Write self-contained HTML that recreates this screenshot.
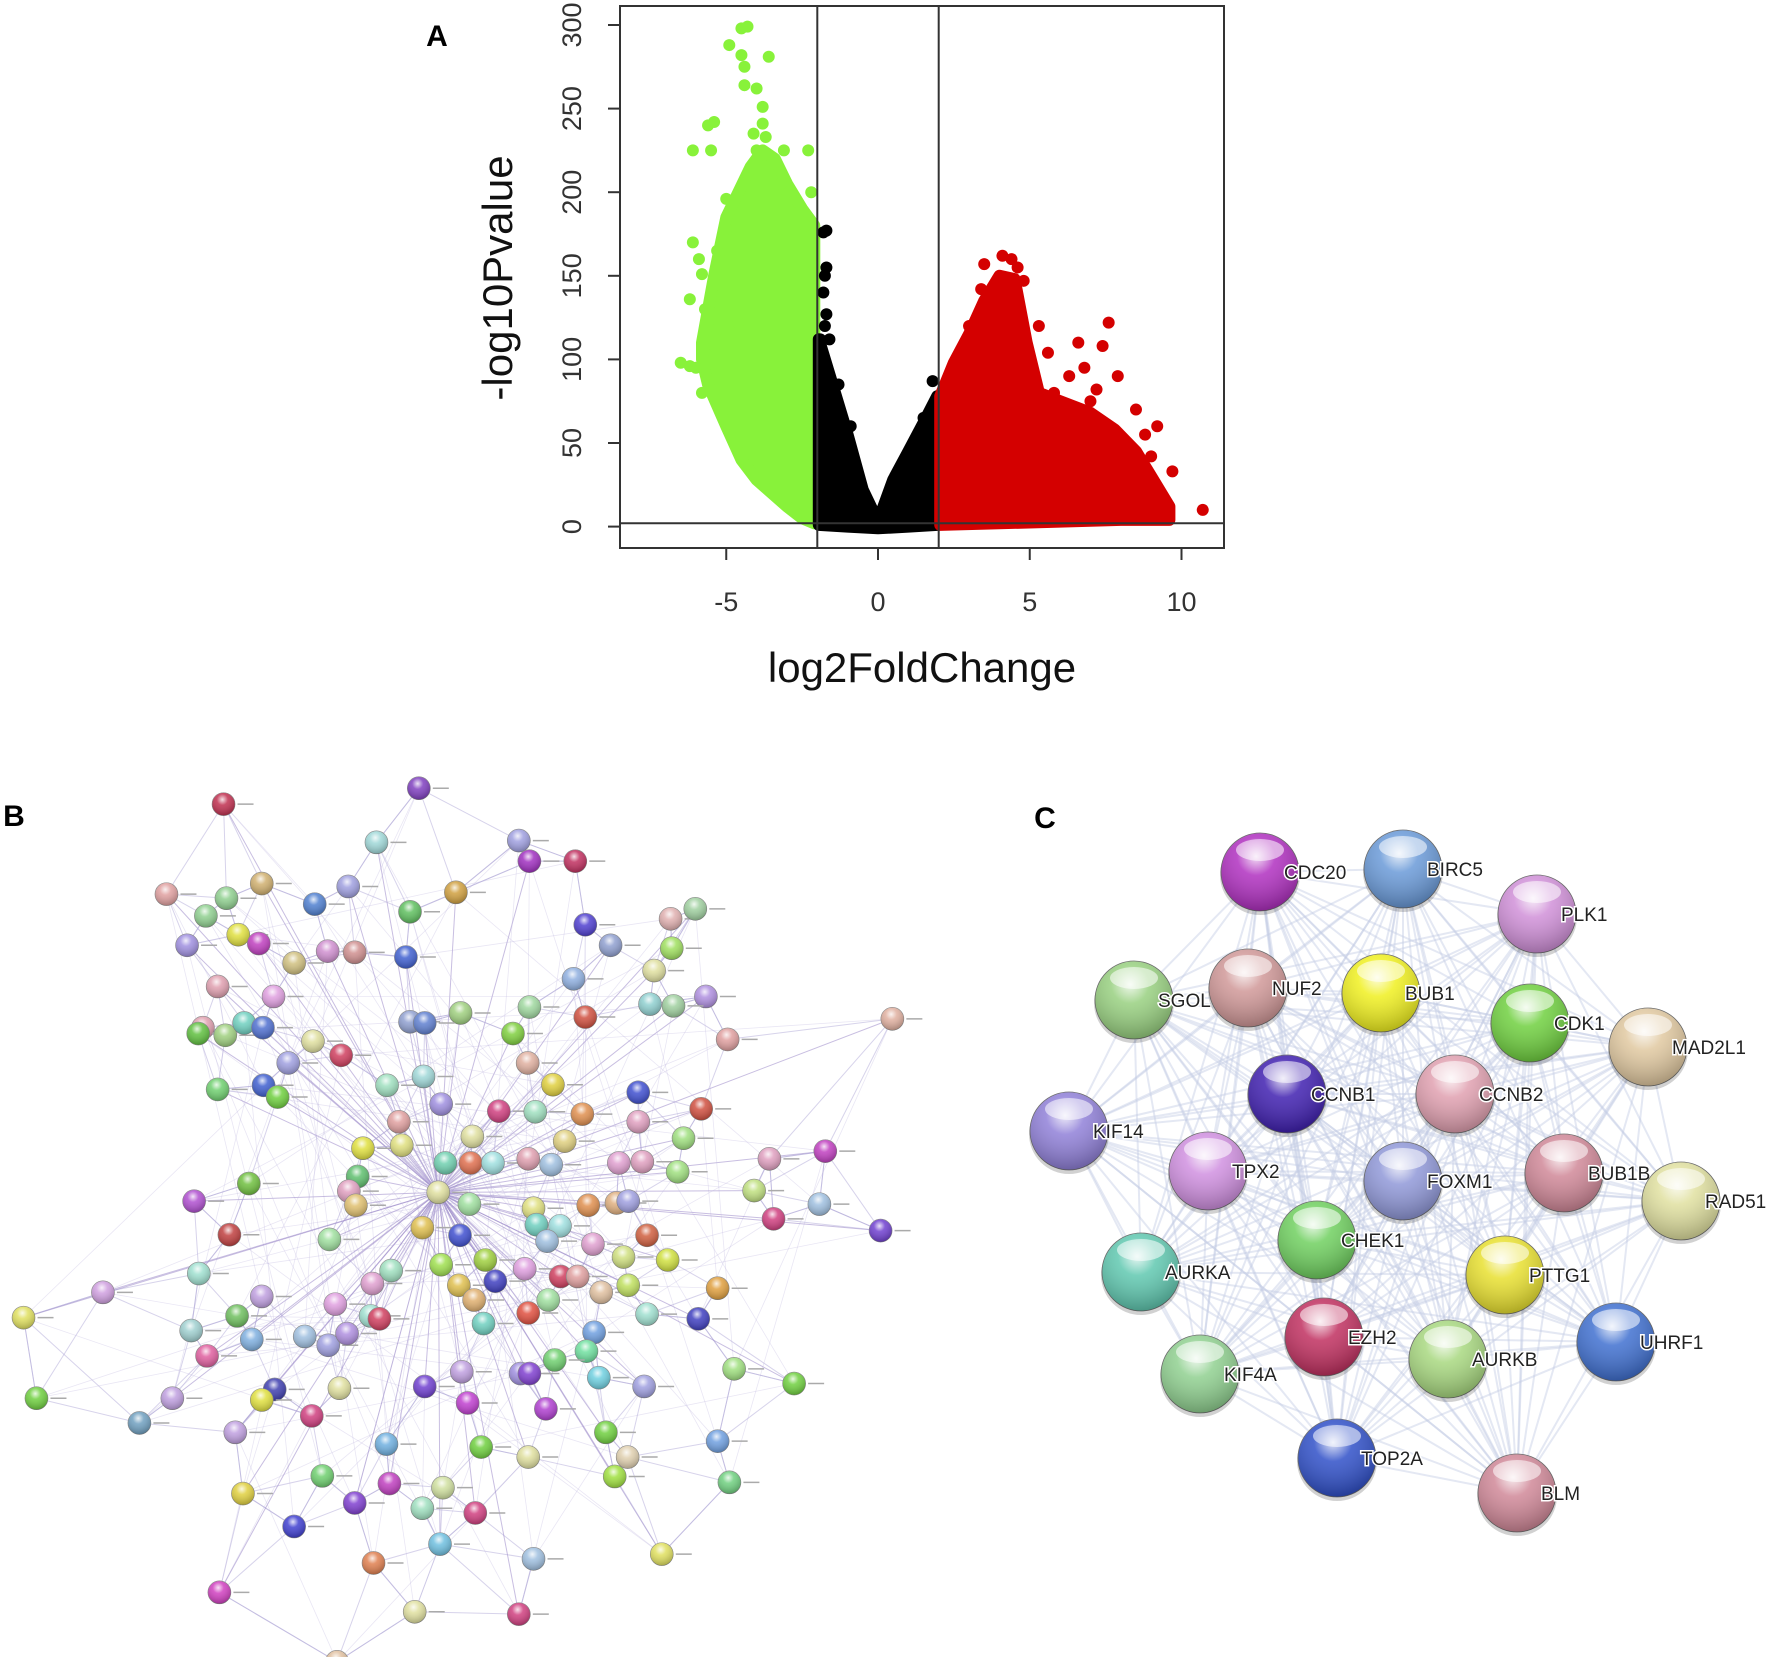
<!DOCTYPE html>
<html><head><meta charset="utf-8">
<style>
html,body{margin:0;padding:0;background:#fff;}
svg{display:block;font-family:"Liberation Sans",Arial,sans-serif;}
</style></head>
<body>
<svg id="fig" width="1772" height="1657" viewBox="0 0 1772 1657" xmlns="http://www.w3.org/2000/svg">
<defs>
<radialGradient id="shine" cx="0.45" cy="0.3" r="0.7">
<stop offset="0" stop-color="#fff" stop-opacity="0.85"/>
<stop offset="0.35" stop-color="#fff" stop-opacity="0.15"/>
<stop offset="1" stop-color="#000" stop-opacity="0.25"/>
</radialGradient>
</defs>
<text x="437" y="46" font-size="30" font-weight="bold" text-anchor="middle">A</text>
<text x="14" y="826" font-size="30" font-weight="bold" text-anchor="middle">B</text>
<text x="1045" y="828" font-size="30" font-weight="bold" text-anchor="middle">C</text>
<g id="volcano"></g>
<g id="netB"></g>
<g id="netC"></g>
</svg>
<script>
const NS="http://www.w3.org/2000/svg";
function mk(tag,attrs,parent){const e=document.createElementNS(NS,tag);for(const k in attrs)e.setAttribute(k,attrs[k]);parent.appendChild(e);return e;}

// ---------- Volcano data ----------
const xTicks=[-5,0,5,10];
const yTicks=[0,50,100,150,200,250,300];
const fcCutoffs=[-2,2];
const pCutoff=2;
const greenUpper=[[-5.8,110],[-5.4,150],[-5,185],[-4.6,200],[-4.2,215],[-3.8,225],[-3.4,220],[-3,205],[-2.5,190],[-2.1,180]];
const greenLower=[[-2.1,2],[-2.5,5],[-3,12],[-4,28],[-4.5,40],[-5,60],[-5.6,85],[-5.8,100]];
const blackUpper=[[-1.95,112],[-1.5,85],[-1,55],[-0.5,22],[0,3],[0.5,28],[1,45],[1.5,62],[1.95,78]];
const blackLower=[[1.95,1],[1,0],[0,-1],[-1,0],[-1.95,1]];
const redUpper=[[2.05,78],[2.5,98],[3,115],[3.5,135],[4,150],[4.5,148],[4.9,110],[5.3,80],[6,75],[7,68],[7.8,58],[8.5,45],[9,30],[9.6,12]];
const redLower=[[9.6,4],[8,4],[6,3],[4,2],[2.05,1]];
const greenPts=[[-6.5,98],[-6.2,96],[-6,95],[-5.8,80],[-6.2,136],[-6.1,170],[-6.1,225],[-5.5,225],[-5.6,240],[-5.4,242],[-4.9,288],[-4.5,298],[-4.3,299],[-4.5,282],[-4.4,275],[-4.4,264],[-4.0,262],[-3.8,251],[-3.6,281],[-4.1,235],[-3.8,241],[-3.7,233],[-3.1,225],[-4.0,225],[-3.5,217],[-3.0,200],[-2.6,188],[-5.0,196],[-5.0,178],[-5.3,165],[-5.8,151],[-5.9,160],[-5.3,118],[-5.4,108],[-4.6,122],[-3.2,205],[-5.7,130],[-2.3,225],[-2.2,200],[-2.4,180]];
const blackPts=[[-1.7,177],[-1.8,176],[-1.7,155],[-1.75,150],[-1.8,140],[-1.7,127],[-1.75,120],[-1.6,112],[-1.3,85],[-0.9,60],[1.8,87],[1.5,65],[-1.9,112]];
const redPts=[[4.1,162],[4.4,160],[3.5,157],[4.6,155],[3.4,142],[4.8,147],[5.3,120],[7.6,122],[6.6,110],[7.4,108],[5.6,104],[6.8,95],[7.9,90],[6.3,90],[7.2,82],[4.2,90],[8.5,70],[9.2,60],[9.0,42],[9.7,33],[10.7,10],[8.8,55],[7.0,75],[5.8,80],[3.0,120],[3.8,130],[4.3,120]];

const sx=v=>878+v*30.35, sy=v=>526.6-v*1.672;
const V=document.getElementById('volcano');
function blob(up,lo,col,name){
  const pts=up.concat(lo).map(p=>sx(p[0]).toFixed(1)+','+sy(p[1]).toFixed(1)).join(' ');
  const e=mk('polygon',{points:pts,fill:col,stroke:col,'stroke-width':12,'stroke-linejoin':'round'},V);
  
  
}
blob(greenUpper,greenLower,'#88f23a','down-regulated-dense');
blob(blackUpper,blackLower,'#000','not-significant-dense');
blob(redUpper,redLower,'#d40000','up-regulated-dense');
function pts(arr,col,name){arr.forEach(p=>{const c=mk('circle',{cx:sx(p[0]),cy:sy(p[1]),r:6,fill:col},V);
  
  });}
pts(greenPts,'#88f23a','down-point');pts(blackPts,'#000','ns-point');pts(redPts,'#d40000','up-point');
let e=mk('rect',{x:620,y:6,width:604,height:542,fill:'none',stroke:'#333','stroke-width':2},V);

fcCutoffs.forEach(c=>{const l=mk('line',{x1:sx(c),x2:sx(c),y1:6,y2:548,stroke:'#333','stroke-width':2},V);
  });
e=mk('line',{x1:620,x2:1224,y1:sy(pCutoff),y2:sy(pCutoff),stroke:'#333','stroke-width':2},V);

xTicks.forEach(t=>{mk('line',{x1:sx(t),x2:sx(t),y1:548,y2:560,stroke:'#333','stroke-width':2},V);
  const tx=mk('text',{x:sx(t),y:611,'font-size':27,fill:'#333','text-anchor':'middle'},V);tx.textContent=t;
  });
yTicks.forEach(t=>{mk('line',{x1:608,x2:620,y1:sy(t),y2:sy(t),stroke:'#333','stroke-width':2},V);
  const tx=mk('text',{x:0,y:0,'font-size':27,fill:'#333','text-anchor':'middle',transform:`translate(581,${sy(t)}) rotate(-90)`},V);tx.textContent=t;
  });
e=mk('text',{x:0,y:0,'font-size':42,fill:'#111','text-anchor':'middle',transform:'translate(512,278) rotate(-90)'},V);e.textContent='-log10Pvalue';

e=mk('text',{x:922,y:682,'font-size':42,fill:'#111','text-anchor':'middle'},V);e.textContent='log2FoldChange';


// ---------- Network B ----------
const bNodes=[[380,75,'#c03050'],[712,48,'#8040c0'],[640,140,'#a0d8d8'],[882,137,'#a0a0e0'],[900,172,'#a030c0'],[978,172,'#c03060'],[283,228,'#e0a0a0'],[385,235,'#90d090'],[445,210,'#d0b070'],[350,265,'#90d090'],[592,215,'#a0a0e0'],[535,245,'#5080d0'],[775,225,'#d0a040'],[697,258,'#60c060'],[318,315,'#a090e0'],[405,297,'#e0e040'],[440,312,'#c040c0'],[500,345,'#d0c080'],[557,325,'#d090d0'],[603,327,'#d09090'],[690,335,'#4060d0'],[995,280,'#5040d0'],[1038,315,'#90a0d0'],[1140,270,'#e0b0b0'],[1182,253,'#a0d0a0'],[1142,320,'#a0e060'],[1112,358,'#e0e0a0'],[975,372,'#90b0e0'],[370,385,'#e0a0b0'],[465,402,'#e0a0e0'],[1200,402,'#b090e0'],[1105,415,'#90d0d0'],[1145,418,'#a0d0a0'],[900,420,'#a0d8a0'],[783,430,'#a0d080'],[697,445,'#90a0d0'],[722,447,'#6080d0'],[995,437,'#d05040'],[1517,440,'#e0b0a0'],[345,455,'#e0a0b0'],[337,465,'#60c040'],[383,468,'#a0d080'],[415,447,'#70d0c0'],[447,455,'#5070d0'],[532,478,'#e0e0a0'],[580,502,'#d04060'],[872,465,'#80d040'],[1237,475,'#e0a0a0'],[490,515,'#a0a0e0'],[897,515,'#e0b0a0'],[370,560,'#70d070'],[448,553,'#4060d0'],[472,573,'#70d040'],[658,553,'#a0e0c0'],[720,538,'#a0d8d8'],[940,552,'#e0d040'],[1085,565,'#4050d0'],[750,585,'#a090e0'],[848,597,'#d04080'],[910,598,'#a0e0c0'],[990,602,'#e09050'],[1085,615,'#e0a0c0'],[1192,593,'#d05040'],[678,615,'#e0a0a0'],[803,640,'#e0e0a0'],[960,648,'#e0d080'],[1162,643,'#a0e080'],[617,660,'#e0e040'],[683,655,'#e0e080'],[757,685,'#70d0b0'],[800,685,'#e07050'],[838,685,'#a0e0e0'],[898,678,'#e0a0b0'],[937,688,'#a0c0e0'],[1052,685,'#e0a0d0'],[1092,683,'#e0a0c0'],[1152,700,'#a0e080'],[1308,678,'#e0a0c0'],[1403,665,'#c040c0'],[423,720,'#70c040'],[608,708,'#60c070'],[593,733,'#e0a0c0'],[605,757,'#e0c070'],[745,735,'#e0e0a0'],[330,750,'#b050d0'],[798,755,'#a0e0a0'],[907,762,'#e0e080'],[1000,757,'#e09050'],[1048,753,'#e0b080'],[1068,750,'#a0a0e0'],[1282,732,'#c0e080'],[1393,755,'#a0c0e0'],[1315,780,'#d04080'],[390,807,'#c04040'],[560,815,'#a0e0a0'],[718,795,'#e0c050'],[782,808,'#4050d0'],[912,790,'#70d0c0'],[952,792,'#a0e0e0'],[930,818,'#a0c0e0'],[1008,823,'#e0a0d0'],[1100,808,'#d06040'],[1497,800,'#7040d0'],[1060,845,'#d0e080'],[1135,850,'#d0e040'],[338,873,'#a0e0d0'],[665,868,'#a0e0c0'],[750,858,'#a0e050'],[825,850,'#a0d040'],[892,865,'#e0a0e0'],[953,878,'#d04060'],[982,878,'#e0a0a0'],[175,905,'#d0a0e0'],[445,912,'#c0a0e0'],[633,890,'#e0a0d0'],[780,893,'#e0c050'],[842,886,'#4040c0'],[806,918,'#e0b070'],[932,918,'#a0e0a0'],[1022,905,'#e0c0a0'],[1068,893,'#c0e060'],[1220,898,'#e0a040'],[40,948,'#e0e060'],[403,945,'#70c060'],[570,925,'#e0a0e0'],[630,945,'#a0e0d0'],[645,950,'#d04060'],[822,958,'#70d0c0'],[898,940,'#e05040'],[1100,942,'#a0e0d0'],[1187,950,'#4040c0'],[325,970,'#a0d0d0'],[428,985,'#80b0e0'],[518,980,'#a0c0e0'],[558,995,'#a0a0e0'],[590,975,'#b090e0'],[352,1013,'#e060a0'],[1010,973,'#70a0e0'],[997,1005,'#70e0a0'],[943,1020,'#70d070'],[885,1043,'#a090e0'],[900,1043,'#8040d0'],[785,1040,'#c0a0e0'],[1248,1035,'#a0e080'],[1350,1060,'#70d040'],[62,1085,'#70d040'],[293,1085,'#c0a0e0'],[467,1070,'#4040b0'],[445,1088,'#e0e040'],[577,1068,'#e0e0a0'],[722,1065,'#7040d0'],[1018,1050,'#70d0e0'],[1095,1065,'#a0a0e0'],[795,1093,'#c040d0'],[928,1103,'#b040d0'],[237,1127,'#70a0c0'],[400,1143,'#c0a0e0'],[530,1115,'#d04080'],[1030,1143,'#70d040'],[1220,1158,'#70a0e0'],[657,1163,'#70b0e0'],[818,1168,'#70d040'],[898,1185,'#e0e0a0'],[1067,1185,'#e0d0b0'],[1045,1218,'#a0e040'],[548,1217,'#70d070'],[413,1247,'#e0d040'],[1240,1228,'#70d080'],[662,1230,'#c040c0'],[753,1237,'#d0e0a0'],[603,1263,'#8040d0'],[718,1272,'#a0e0c0'],[808,1280,'#d04080'],[500,1303,'#4040d0'],[748,1333,'#70c0e0'],[907,1358,'#a0c0e0'],[1125,1350,'#e0e060'],[635,1365,'#e08050'],[373,1415,'#d040c0'],[705,1448,'#e0e0a0'],[882,1452,'#d04080'],[573,1533,'#e0c0a0']];
const hubIndex=bNodes.findIndex(n=>n[0]===745&&n[1]===735);
const B=document.getElementById('netB');
const bx=v=>v/1.70, by=v=>v/1.70+760;
const eg=mk('g',{},B);

const hub=bNodes[hubIndex];
bNodes.forEach((n,i)=>{
  if(i!==hubIndex && i%2===0) mk('line',{x1:bx(n[0]),y1:by(n[1]),x2:bx(hub[0]),y2:by(hub[1]),stroke:'#9a88c8','stroke-width':1,'stroke-opacity':0.55},eg);
  const d=bNodes.map((m,j)=>[j,(m[0]-n[0])**2+(m[1]-n[1])**2]).filter(a=>a[0]!==i).sort((a,b)=>a[1]-b[1]);
  for(let k=0;k<3;k++){const m=bNodes[d[k][0]];mk('line',{x1:bx(n[0]),y1:by(n[1]),x2:bx(m[0]),y2:by(m[1]),stroke:'#b0a8d8','stroke-width':1,'stroke-opacity':0.5},eg);}
  const far=bNodes[(i*37+11)%bNodes.length];
  mk('line',{x1:bx(n[0]),y1:by(n[1]),x2:bx(far[0]),y2:by(far[1]),stroke:'#c0b8e0','stroke-width':0.8,'stroke-opacity':0.35},eg);
});
bNodes.forEach(n=>{
  const g=mk('g',{},B);
  
  
  mk('circle',{cx:bx(n[0]),cy:by(n[1]),r:11.5,fill:n[2],stroke:'#888','stroke-width':0.6},g);
  mk('circle',{cx:bx(n[0]),cy:by(n[1]),r:11.5,fill:'url(#shine)'},g);
  mk('line',{x1:bx(n[0])+14,x2:bx(n[0])+30,y1:by(n[1]),y2:by(n[1]),stroke:'#aaa','stroke-width':1.5},g);
});

// ---------- Network C ----------
const cNames=['CDC20','BIRC5','PLK1','SGOL1','NUF2','BUB1','CDK1','MAD2L1','CCNB1','CCNB2','KIF14','TPX2','FOXM1','BUB1B','RAD51','CHEK1','AURKA','PTTG1','UHRF1','EZH2','AURKB','KIF4A','TOP2A','BLM'];
const cX=[1260,1403,1537,1134,1248,1381,1530,1648,1287,1455,1069,1208,1403,1564,1681,1317,1141,1505,1616,1324,1448,1200,1337,1517];
const cY=[872,869,914,1000,988,993,1023,1047,1094,1094,1131,1171,1181,1173,1201,1240,1272,1275,1342,1337,1359,1374,1458,1493];
const cCols=['#b030c0','#6a9ad8','#d090d8','#98d080','#d09898','#f0f020','#70d040','#e0c8a0','#4020b0','#e0a0b0','#9080d8','#d090e0','#9098d8','#d08898','#e0e0a0','#70d060','#60c8b0','#e8e030','#4070d0','#c03060','#a8d880','#90d090','#3050c8','#d08898'];
const C=document.getElementById('netC');
const cg=mk('g',{},C);

for(let i=0;i<cNames.length;i++)for(let j=i+1;j<cNames.length;j++){
  mk('line',{x1:cX[i],y1:cY[i],x2:cX[j],y2:cY[j],stroke:'#c4cce4','stroke-width':2,'stroke-opacity':0.45},cg);}
cNames.forEach((nm,i)=>{
  const g=mk('g',{},C);
  
  
  mk('circle',{cx:cX[i],cy:cY[i]+3,r:40,fill:'#000','fill-opacity':0.18},g);
  mk('circle',{cx:cX[i],cy:cY[i],r:39,fill:cCols[i],stroke:'#666','stroke-width':0.8},g);
  mk('circle',{cx:cX[i],cy:cY[i],r:39,fill:'url(#shine)'},g);
  mk('ellipse',{cx:cX[i],cy:cY[i]-22,rx:24,ry:11,fill:'#fff','fill-opacity':0.55},g);
  const t=mk('text',{x:cX[i]+24,y:cY[i]+7,'font-size':19,fill:'#222',stroke:'#fff','stroke-width':3,'paint-order':'stroke'},g);
  t.textContent=nm==='SGOL1'?'SGOL':nm;
});
</script>
</body></html>
